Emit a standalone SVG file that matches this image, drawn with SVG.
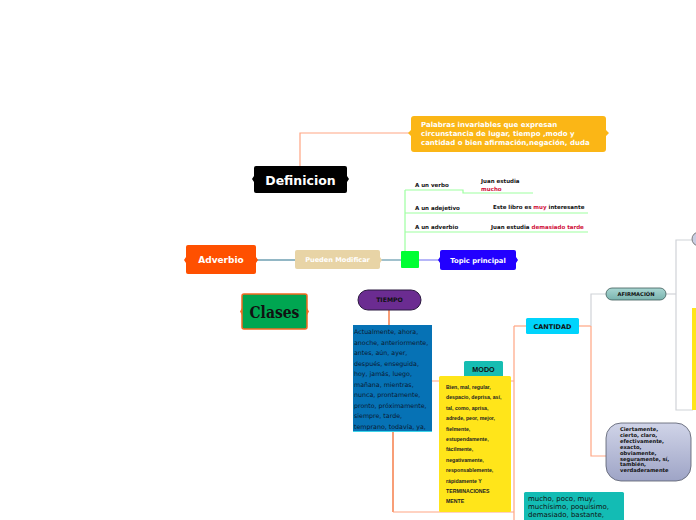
<svg xmlns="http://www.w3.org/2000/svg" width="696" height="520" viewBox="0 0 696 520">
<style>
.b{font-family:"DejaVu Sans",Verdana,sans-serif;font-weight:bold}
.s{font-family:"DejaVu Sans",Verdana,sans-serif;font-weight:bold;font-size:5.5px;fill:#111}
.w{fill:#fff}
.or{stroke:#ffa583;stroke-width:1.2;fill:none}
.od{stroke:#f56a2e;stroke-width:1.3;fill:none}
.gr{stroke:#9dffa0;stroke-width:1.2;fill:none}
.gy{stroke:#d0d3d8;stroke-width:1.2;fill:none}
.t{font-family:"DejaVu Sans",sans-serif;font-size:6.3px;fill:#0b1830}
.m{font-family:"Liberation Sans",Arial,sans-serif;font-weight:bold;font-size:5.2px;fill:#222}
.c{font-family:"DejaVu Sans",sans-serif;font-size:7px;fill:#111}
.r{fill:#d0103a}
</style>
<defs>
<linearGradient id="bub" x1="0" y1="0" x2="0" y2="1"><stop offset="0" stop-color="#d0d4e8"/><stop offset="1" stop-color="#9ea4c6"/></linearGradient>
<linearGradient id="afi" x1="0" y1="0" x2="0" y2="1"><stop offset="0" stop-color="#a9d6d2"/><stop offset="1" stop-color="#79b3ae"/></linearGradient>
</defs>
<rect width="696" height="520" fill="#fff"/>
<g id="connectors">
<polyline class="or" points="300,166 300,133 411,133"/>
<line x1="256" y1="260" x2="295" y2="260" stroke="#6e9fb2" stroke-width="1.3"/>
<line x1="380" y1="260" x2="401" y2="260" stroke="#6e9fb2" stroke-width="1.3"/>
<line x1="419" y1="260" x2="440" y2="260" stroke="#8f8ff5" stroke-width="1.3"/>
<polyline class="gr" points="405,251 405,190"/>
<polyline class="gr" points="405,190 463,190 463,193 533,193"/>
<polyline class="gr" points="405,213 588,213"/>
<polyline class="gr" points="405,232 588,232"/>
<line class="od" x1="389" y1="310" x2="389" y2="325"/>
<line class="od" x1="393" y1="432" x2="393" y2="512"/>
<line class="or" x1="393" y1="512" x2="514" y2="512"/>
<line class="or" x1="432" y1="381" x2="514" y2="381"/>
<line class="or" x1="514" y1="326" x2="514" y2="520"/>
<line class="or" x1="514" y1="326" x2="526" y2="326"/>
<line class="or" x1="579" y1="326" x2="591" y2="326"/>
<polyline class="or" points="591,326 591,456 606,456"/>
<polyline class="gy" points="606,294 591,294 591,326"/>
<polyline class="gy" points="666,294 676,294"/>
<polyline class="gy" points="692,240 676,240 676,410 693,410"/>
</g>
<g id="palabras">
<rect x="411" y="116" width="195" height="36" rx="3" fill="#fbb616"/>
<path d="M411,130 l-3,3 l3,3 z M606,130 l3,3 l-3,3 z" fill="#fbb616"/>
<text class="b w" font-size="7px" x="421" y="127">Palabras invariables que expresan</text>
<text class="b w" font-size="7px" x="421" y="136">circunstancia de lugar, tiempo ,modo y</text>
<text class="b w" font-size="7px" x="421" y="145">cantidad o bien afirmación,negación, duda</text>
</g>
<g id="definicion">
<rect x="254" y="166" width="93" height="27" rx="2" fill="#000"/>
<path d="M254,176 l-2,3 l2,3 z M347,176 l2,3 l-2,3 z" fill="#000"/>
<text class="b w" font-size="12.5px" x="300.5" y="184.5" text-anchor="middle">Definicion</text>
</g>
<g id="adverbio">
<rect x="186" y="245" width="70" height="29" rx="2" fill="#ff5000"/>
<path d="M186,257 l-2,3 l2,3 z M256,257 l2,3 l-2,3 z" fill="#ff5000"/>
<text class="b w" font-size="9px" x="221" y="263" text-anchor="middle">Adverbio</text>
</g>
<g id="pueden">
<rect x="295" y="250" width="85" height="19" rx="2" fill="#e8d4a6"/>
<path d="M380,257 l2,3 l-2,3 z" fill="#e8d4a6"/>
<text class="b w" font-size="6.6px" x="337.5" y="262.3" text-anchor="middle">Pueden Modificar</text>
</g>
<g id="verde">
<rect x="401" y="251" width="18" height="17" rx="1" fill="#00ff33"/>
</g>
<g id="topic">
<rect x="440" y="250" width="76" height="20" rx="2" fill="#2200ff"/>
<path d="M440,257 l-2,3 l2,3 z M516,257 l2,3 l-2,3 z" fill="#2200ff"/>
<text class="b w" font-size="6.8px" x="478" y="262.6" text-anchor="middle">Topic principal</text>
</g>
<g id="verbo">
<text class="s" x="415" y="187">A un verbo</text>
<text class="s" x="481" y="183">Juan estudia</text>
<text class="s r" x="481" y="191">mucho</text>
</g>
<g id="adjetivo">
<text class="s" x="415" y="210">A un adejetivo</text>
<text class="s" x="493" y="209">Este libro es <tspan class="r">muy</tspan> interesante</text>
</g>
<g id="adverbio2">
<text class="s" x="415" y="229">A un adverbio</text>
<text class="s" x="491" y="229">Juan estudia <tspan class="r">demasiado tarde</tspan></text>
</g>
<g id="clases">
<rect x="242" y="294" width="65" height="35" rx="2" fill="#00a651" stroke="#f36a21" stroke-width="1.5"/>
<path d="M242,308 l-2,3.5 l2,3.5 z M307,308 l2,3.5 l-2,3.5 z" fill="#f36a21"/>
<text x="274.5" y="318.5" text-anchor="middle" font-family="'DejaVu Serif',serif" font-weight="bold" font-size="17px" fill="#111" transform="translate(274.5 0) scale(0.82 1) translate(-274.5 0)">Clases</text>
</g>
<g id="tiempo">
<rect x="358" y="290" width="63" height="20" rx="10" fill="#6b2c91" stroke="#2b1840" stroke-width="1"/>
<text class="b" font-size="6.2px" x="389.5" y="302.3" text-anchor="middle" fill="#111">TIEMPO</text>
</g>
<g id="tiempo-lista">
<rect x="353" y="325" width="79" height="107" fill="#0672b5"/>
<line x1="353" y1="431.5" x2="432" y2="431.5" stroke="#3cd3e8" stroke-width="1"/>
<text class="t" x="354" y="334">Actualmente, ahora,</text>
<text class="t" x="354" y="344.5">anoche, anteriormente,</text>
<text class="t" x="354" y="355">antes, aún, ayer,</text>
<text class="t" x="354" y="365.5">después, enseguida,</text>
<text class="t" x="354" y="376">hoy, jamás, luego,</text>
<text class="t" x="354" y="386.5">mañana, mientras,</text>
<text class="t" x="354" y="397">nunca, prontamente,</text>
<text class="t" x="354" y="407.5">pronto, próximamente,</text>
<text class="t" x="354" y="418">siempre, tarde,</text>
<text class="t" x="354" y="428.5">temprano, todavía, ya,</text>
</g>
<g id="modo">
<rect x="464" y="361" width="39" height="16" rx="1.5" fill="#16bdb2"/>
<text font-family="'Liberation Sans',Arial,sans-serif" font-weight="bold" font-size="8px" x="483.5" y="372.5" text-anchor="middle" fill="#111" transform="translate(483.5 0) scale(0.9 1) translate(-483.5 0)">MODO</text>
</g>
<g id="modo-lista">
<rect x="439" y="376" width="72" height="136" rx="1.5" fill="#ffe51a"/>
<text class="m" x="446" y="389">Bien, mal, regular,</text>
<text class="m" x="446" y="399.4">despacio, deprisa, así,</text>
<text class="m" x="446" y="409.8">tal, como, aprisa,</text>
<text class="m" x="446" y="420.2">adrede, peor, mejor,</text>
<text class="m" x="446" y="430.6">fielmente,</text>
<text class="m" x="446" y="441">estupendamente,</text>
<text class="m" x="446" y="451.4">fácilmente,</text>
<text class="m" x="446" y="461.8">negativamente,</text>
<text class="m" x="446" y="472.2">responsablemente,</text>
<text class="m" x="446" y="482.6">rápidamente Y</text>
<text class="m" x="446" y="493">TERMINACIONES</text>
<text class="m" x="446" y="503.4">MENTE</text>
</g>
<g id="cantidad">
<rect x="526" y="318" width="53" height="16" rx="1.5" fill="#00d4fc"/>
<text class="b" font-size="6.5px" x="552.5" y="328.6" text-anchor="middle" fill="#111">CANTIDAD</text>
</g>
<g id="afirmacion">
<rect x="606" y="288" width="60" height="12" rx="6" fill="url(#afi)" stroke="#3e5a58" stroke-width="0.8"/>
<text class="b" font-size="5.2px" x="636" y="296" text-anchor="middle" fill="#111">AFIRMACIÓN</text>
</g>
<g id="afirm-lista">
<rect x="606" y="423" width="85" height="58" rx="15" fill="url(#bub)" stroke="#555a6a" stroke-width="0.8"/>
<text class="s" font-size="5.2px" style="font-size:5.2px" x="620" y="431">Ciertamente,</text>
<text class="s" style="font-size:5.2px" x="620" y="436.9">cierto, claro,</text>
<text class="s" style="font-size:5.2px" x="620" y="442.8">efectivamente,</text>
<text class="s" style="font-size:5.2px" x="620" y="448.7">exacto,</text>
<text class="s" style="font-size:5.2px" x="620" y="454.6">obviamente,</text>
<text class="s" style="font-size:5.2px" x="620" y="460.5">seguramente, sí,</text>
<text class="s" style="font-size:5.2px" x="620" y="466.4">también,</text>
<text class="s" style="font-size:5.2px" x="620" y="472.3">verdaderamente</text>
</g>
<g id="cantidad-lista">
<rect x="524" y="492" width="100" height="30" rx="1.5" fill="#13bcb4"/>
<text class="c" x="528" y="501">mucho, poco, muy,</text>
<text class="c" x="528" y="509">muchísimo, poquísimo,</text>
<text class="c" x="528" y="517">demasiado, bastante,</text>
</g>
<g id="borde-derecho">
<rect x="692" y="232" width="14" height="14" rx="7" fill="#c9cde2" stroke="#666" stroke-width="0.8"/>
<rect x="692" y="308" width="6" height="102" fill="#ffe51a"/>
</g>
</svg>
